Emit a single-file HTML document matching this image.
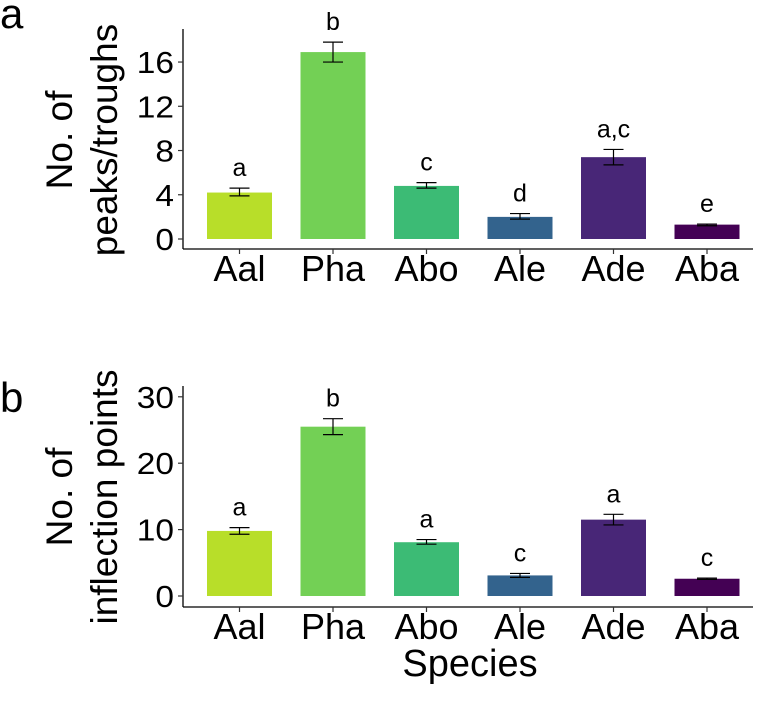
<!DOCTYPE html>
<html><head><meta charset="utf-8"><style>
body{margin:0;background:#fff;}
svg text{font-family:"Liberation Sans",Arial,sans-serif;fill:#000;}
</style></head><body>
<svg id="chart" width="762" height="698" xmlns="http://www.w3.org/2000/svg"></svg>
<script>
const categories=["Aal","Pha","Abo","Ale","Ade","Aba"];
const colors=["#B8DE29","#73D055","#3CBB75","#33638D","#482677","#440154"];
const valuesA=[4.2,16.9,4.8,2.0,7.4,1.3];
const errLowA=[3.9,16.0,4.6,1.8,6.7,1.2];
const errHighA=[4.6,17.8,5.1,2.3,8.1,1.35];
const lettersA=["a","b","c","d","a,c","e"];
const ticksA=[0,4,8,12,16];
const valuesB=[9.8,25.5,8.1,3.1,11.5,2.6];
const errLowB=[9.3,24.3,7.8,2.8,10.7,2.5];
const errHighB=[10.3,26.7,8.5,3.4,12.3,2.7];
const lettersB=["a","b","a","c","a","c"];
const ticksB=[0,10,20,30];
const svg=document.getElementById('chart');
const NS="http://www.w3.org/2000/svg";
function mk(tag,attrs,text){const e=document.createElementNS(NS,tag);for(const k in attrs)e.setAttribute(k,attrs[k]);if(text!==undefined)e.textContent=text;svg.appendChild(e);return e;}
function xPos(i){return 239.5+i*93.5;}
function panel(p){
  const y=v=>p.zero-v*p.scale;
  let e;
  e=mk('text',{x:0,y:p.labelY,'font-size':42},p.label);
  
  
  e=mk('line',{x1:183,y1:p.top,x2:183,y2:p.axisY,stroke:'#000','stroke-width':1.3});
  
  
  e=mk('line',{x1:183,y1:p.axisY,x2:753,y2:p.axisY,stroke:'#000','stroke-width':1.3});
  
  
  p.ticks.forEach(t=>{
    mk('line',{x1:178,y1:y(t),x2:183,y2:y(t),stroke:'#333','stroke-width':1.2});
    e=mk('text',{x:174,y:y(t)+11,'font-size':31,'text-anchor':'end',transform:`translate(174,${y(t)}) scale(1.08,1) translate(-174,${-y(t)})`},t);
    
    
  });
  categories.forEach((c,i)=>{
    const cx=xPos(i);
    e=mk('rect',{x:cx-32.5,y:y(p.vals[i]),width:65,height:p.vals[i]*p.scale,fill:colors[i]});
    
    
    const lo=y(p.lo[i]),hi=y(p.hi[i]);
    e=mk('path',{d:`M${cx-10},${hi}H${cx+10}M${cx},${hi}V${lo}M${cx-10},${lo}H${cx+10}`,stroke:'#000','stroke-width':1.2,fill:'none'});
    
    
    e=mk('text',{x:cx,y:hi-12,'font-size':25,'text-anchor':'middle'},p.letters[i]);
    
    
    mk('line',{x1:cx,y1:p.axisY,x2:cx,y2:p.axisY+5,stroke:'#333','stroke-width':1.2});
    e=mk('text',{x:cx,y:p.axisY+32,'font-size':36,'text-anchor':'middle'},c);
    
    
  });
  e=mk('text',{'font-size':37,'text-anchor':'middle',transform:`translate(72,${p.titleY}) rotate(-90)`},'No. of');
  
  
  e=mk('text',{'font-size':37,'text-anchor':'middle',transform:`translate(117,${p.titleY}) rotate(-90)`},p.title2);
  
  
}
panel({label:'a',labelY:28,top:29,zero:239,scale:11.06,axisY:249,ticks:ticksA,vals:valuesA,lo:errLowA,hi:errHighA,letters:lettersA,titleY:140,title2:'peaks/troughs'});
panel({label:'b',labelY:412,top:386,zero:596,scale:6.64,axisY:607,ticks:ticksB,vals:valuesB,lo:errLowB,hi:errHighB,letters:lettersB,titleY:497,title2:'inflection points'});
const t=mk('text',{x:470,y:676,'font-size':38,'text-anchor':'middle'},'Species');


</script>
</body></html>
